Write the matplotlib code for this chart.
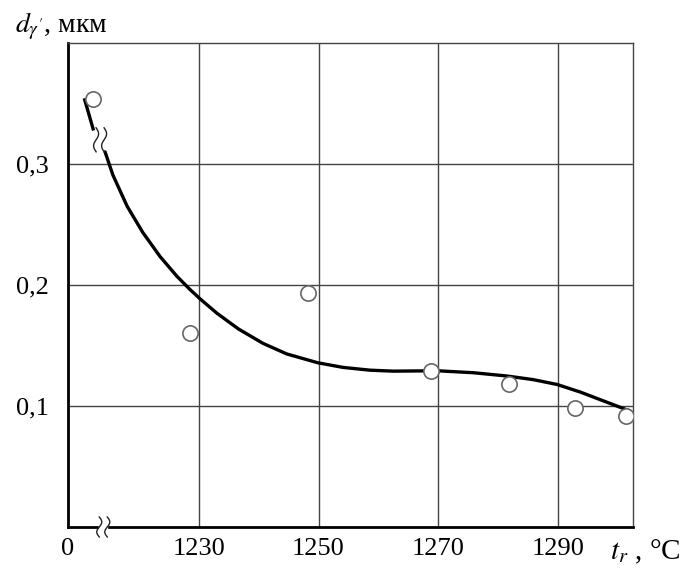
import numpy as np
import matplotlib.pyplot as plt
from matplotlib.transforms import ScaledTranslation

plt.rcParams['font.family'] = ['Liberation Serif', 'DejaVu Serif']
plt.rcParams['mathtext.fontset'] = 'stix'

# measured points (temperature, grain size)
temp_pts = [1212.3, 1228.5, 1248.2, 1268.8, 1281.8, 1292.9, 1301.5]
size_pts = [0.354, 0.160, 0.193, 0.129, 0.118, 0.098, 0.092]

# fitted curve, split where the curve is broken
curve_t_top = [1210.9, 1212.3]
curve_d_top = [0.353, 0.329]
curve_t = [1214.3, 1215.6, 1218.0, 1220.6, 1223.5, 1226.3, 1228.5, 1230.2, 1233.0,
           1236.6, 1240.7, 1244.7, 1249.9, 1254.1, 1258.6, 1262.5, 1267.0, 1270.3,
           1275.9, 1281.5, 1285.9, 1289.9, 1293.8, 1298.3, 1302.1]
curve_d = [0.310, 0.291, 0.265, 0.2435, 0.2235, 0.2073, 0.1963, 0.1885, 0.1767,
           0.1637, 0.1518, 0.1430, 0.1357, 0.1319, 0.1296, 0.1288, 0.1290, 0.1290,
           0.1275, 0.1248, 0.1218, 0.1178, 0.1115, 0.1030, 0.0958]

x_ticks = [1208.1, 1230, 1250, 1270, 1290]
x_labels = ["0", "1230", "1250", "1270", "1290"]
y_ticks = [0.1, 0.2, 0.3]
y_labels = ["0,1", "0,2", "0,3"]


def wavy(ax, x, y, dx, half_h, lw=1.0):
    # small "S" break mark drawn in inches around a data point
    s = np.linspace(-1, 1, 40)
    xs = dx + 0.025 * np.sin(s * np.pi)
    ys = s * half_h
    tr = ax.figure.dpi_scale_trans + ScaledTranslation(x, y, ax.transData)
    ax.plot(xs, ys, color="#222222", lw=lw, transform=tr, clip_on=False, zorder=5)


fig = plt.figure(figsize=(6.88, 5.70), dpi=100)
ax = fig.add_axes([68 / 688, 43 / 570, 565 / 688, 484 / 570])

ax.set_xlim(1208.1, 1302.6)
ax.set_ylim(0, 0.4)

for xv in x_ticks[1:]:
    ax.axvline(xv, color="#444444", lw=1.0, zorder=1)
for yv in y_ticks:
    ax.axhline(yv, color="#444444", lw=1.0, zorder=1)

ax.plot(curve_t_top, curve_d_top, color="black", lw=2.4, zorder=3)
ax.plot(curve_t, curve_d, color="black", lw=2.4, zorder=3,
        solid_joinstyle="round", solid_capstyle="round")
ax.plot(temp_pts, size_pts, "o", ms=11, mfc="white", mec="#666666", mew=1.2, zorder=4)

ax.set_xticks(x_ticks)
ax.set_xticklabels(x_labels)
ax.set_yticks(y_ticks)
ax.set_yticklabels(y_labels)
ax.tick_params(length=0, labelsize=19)
ax.tick_params(axis="y", pad=14)
ax.tick_params(axis="x", pad=8)

for side in ["left", "bottom"]:
    ax.spines[side].set_linewidth(2.0)
for side in ["top", "right"]:
    ax.spines[side].set_linewidth(1.0)
    ax.spines[side].set_color("#444444")

# break on the x axis
ax.fill_between([1213.3, 1214.7], -0.003, 0.003, color="white", zorder=4, clip_on=False)
wavy(ax, 1214.0, 0.0, -0.04, 0.1)
wavy(ax, 1214.0, 0.0, 0.04, 0.1)

# break on the curve
wavy(ax, 1213.3, 0.32, -0.03, 0.12)
wavy(ax, 1213.3, 0.32, 0.05, 0.12)

fig.text(15 / 688, 1 - 26 / 570, r"$d_{\gamma'}$, мкм", fontsize=20, va="center", ha="left")
fig.text(610 / 688, 1 - 552 / 570, r"$t_r$ , °C", fontsize=21, va="center", ha="left")

fig.savefig("out.png", dpi=100)
